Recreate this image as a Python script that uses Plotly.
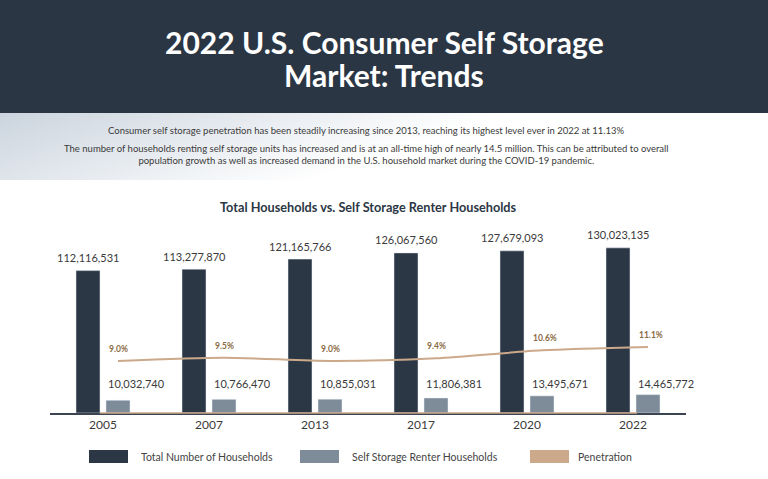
import base64
import plotly.graph_objects as go

# ---------------- data ----------------
years = ["2005", "2007", "2013", "2017", "2020", "2022"]
total_households = [112116531, 113277870, 121165766, 126067560, 127679093, 130023135]
renter_households = [10032740, 10766470, 10855031, 11806381, 13495671, 14465772]
penetration = [9.0, 9.5, 9.0, 9.4, 10.6, 11.1]

series_names = ["Total Number of Households", "Self Storage Renter Households", "Penetration"]

title_lines = ["2022 U.S. Consumer Self Storage", "Market: Trends"]
subtitle_1 = ("Consumer self storage penetration has been steadily increasing since 2013, "
              "reaching its highest level ever in 2022 at 11.13%")
subtitle_2 = ("The number of households renting self storage units has increased and is at an "
              "all-time high of nearly 14.5 million. This can be attributed to overall<br>"
              "population growth as well as increased demand in the U.S. household market "
              "during the COVID-19 pandemic.")
chart_title = "Total Households vs. Self Storage Renter Households"

# ---------------- style ----------------
DARK = "#2b3744"
GRAY = "#7e8b98"
TAN = "#cba98a"
TAN_TEXT = "#8a6a42"
TEXT = "#3a3a3a"
FONT = "Lato"

W, H = 768, 479
L, R, T, B = 50, 82, 230, 66
plot_w = W - L - R
plot_h = H - T - B

BARGAP = 0.434
BARGROUPGAP = 0.2
slot = (1 - BARGAP) / 2          # width of one bar slot in category units
unit_px = plot_w / len(years)
bar_offset = slot / 2            # centre of each bar relative to category centre
bar_half_px = slot * (1 - BARGROUPGAP) / 2 * unit_px
offset_px = bar_offset * unit_px

px_per_million = 1.27
y_max = plot_h / px_per_million * 1e6
pen_px = 6.67
pen_lo = 9.0 - (413 - 361) / pen_px
pen_hi = 9.0 + (361 - 230) / pen_px


def fx(xp):
    return (xp - L) / plot_w


def fy(yp):
    return (H - B - yp) / plot_h


fig = go.Figure()
fig.add_bar(x=years, y=total_households, name=series_names[0], marker_color=DARK,
            showlegend=False, hoverinfo="skip")
fig.add_bar(x=years, y=renter_households, name=series_names[1], marker_color=GRAY,
            showlegend=False, hoverinfo="skip")
fig.add_scatter(x=years, y=penetration, name=series_names[2], xaxis="x2", yaxis="y2",
                mode="lines", line=dict(color=TAN, width=2, shape="spline", smoothing=0.7),
                showlegend=False, hoverinfo="skip")

annotations = []
CX = fx(366)
# header title
for line, yc in zip(title_lines, (42, 75)):
    annotations.append(dict(xref="paper", yref="paper", x=fx(W / 2), y=fy(yc), text=f"<b>{line}</b>",
                            showarrow=False, font=dict(family=FONT, size=30, color="white"),
                            xanchor="center", yanchor="middle"))
annotations.append(dict(xref="paper", yref="paper", x=CX, y=fy(130), text=subtitle_1,
                        showarrow=False, font=dict(family=FONT, size=9.5, color=TEXT),
                        xanchor="center", yanchor="middle"))
annotations.append(dict(xref="paper", yref="paper", x=CX, y=fy(154.5), text=subtitle_2,
                        showarrow=False, font=dict(family=FONT, size=9.5, color=TEXT),
                        xanchor="center", yanchor="middle"))
annotations.append(dict(xref="paper", yref="paper", x=fx(368), y=fy(207), text=f"<b>{chart_title}</b>",
                        showarrow=False, font=dict(family=FONT, size=12.7, color=DARK),
                        xanchor="center", yanchor="middle"))

# value labels (category axes take the category index)
for i, v in enumerate(total_households):
    annotations.append(dict(xref="x", yref="y", x=i, y=v, text=f"{v:,}", showarrow=False,
                            xshift=-offset_px, yshift=13, xanchor="center", yanchor="middle",
                            font=dict(family=FONT, size=11, color=TEXT)))
for i, v in enumerate(renter_households):
    annotations.append(dict(xref="x2", yref="paper", x=i, y=fy(383), text=f"{v:,}", showarrow=False,
                            xshift=-bar_half_px, xanchor="left", yanchor="middle",
                            font=dict(family=FONT, size=11, color=TEXT)))
for i, v in enumerate(penetration):
    annotations.append(dict(xref="x2", yref="y2", x=i, y=v, text=f"<b>{v:.1f}%</b>", showarrow=False,
                            xshift=-bar_half_px + 1, yshift=12, xanchor="left", yanchor="middle",
                            font=dict(family=FONT, size=8.5, color=TAN_TEXT)))

# custom legend
legend_items = [(series_names[0], DARK, 89, 139), (series_names[1], GRAY, 300, 350),
                (series_names[2], TAN, 530, 576)]
shapes = []
for name, col, sx, tx in legend_items:
    shapes.append(dict(type="rect", xref="paper", yref="paper", x0=fx(sx), x1=fx(sx + 39),
                       y0=fy(463), y1=fy(450), fillcolor=col, line=dict(width=0)))
    annotations.append(dict(xref="paper", yref="paper", x=fx(tx), y=fy(456.5), text=name,
                            showarrow=False, xanchor="left", yanchor="middle",
                            font=dict(family=FONT, size=10.5, color="#444")))

# header band
shapes.insert(0, dict(type="rect", xref="paper", yref="paper", x0=fx(0), x1=fx(W), y0=fy(113), y1=fy(0),
                      fillcolor="#2b3644", line=dict(width=0), layer="below"))
# tan baseline segment
shapes.append(dict(type="line", xref="paper", yref="paper", x0=fx(100), x1=fx(637), y0=0, y1=0,
                   line=dict(color=TAN, width=1.5)))

svg = ('<svg xmlns="http://www.w3.org/2000/svg" width="768" height="67" preserveAspectRatio="none">'
       '<defs><linearGradient id="g" x1="0" y1="0" x2="1" y2="0.25">'
       '<stop offset="0" stop-color="#cbd4de"/><stop offset="0.62" stop-color="#ffffff"/>'
       '</linearGradient></defs><rect width="768" height="67" fill="url(#g)"/></svg>')
svg_uri = "data:image/svg+xml;base64," + base64.b64encode(svg.encode()).decode()

n = len(years)
fig.update_layout(
    width=W, height=H,
    margin=dict(l=L, r=R, t=T, b=B, pad=0),
    paper_bgcolor="white", plot_bgcolor="rgba(0,0,0,0)",
    barmode="group", bargap=BARGAP, bargroupgap=BARGROUPGAP,
    showlegend=False,
    xaxis=dict(type="category", range=[-0.5, n - 0.5], showline=True, linecolor="#3b4551",
               linewidth=1.5, ticks="", showgrid=False, zeroline=False,
               tickfont=dict(family=FONT, size=12, color=TEXT), ticklabelstandoff=0),
    xaxis2=dict(type="category", overlaying="x", visible=False,
                range=[-0.5 - bar_offset, n - 0.5 - bar_offset]),
    yaxis=dict(range=[0, y_max], visible=False, showgrid=False, zeroline=False),
    yaxis2=dict(range=[pen_lo, pen_hi], overlaying="y", visible=False, showgrid=False),
    annotations=annotations,
    shapes=shapes,
    images=[dict(source=svg_uri, xref="paper", yref="paper", x=fx(0), y=fy(113),
                 sizex=fx(W) - fx(0), sizey=fy(113) - fy(180), sizing="stretch",
                 xanchor="left", yanchor="top", layer="below")],
)

fig.write_html("out.html")
